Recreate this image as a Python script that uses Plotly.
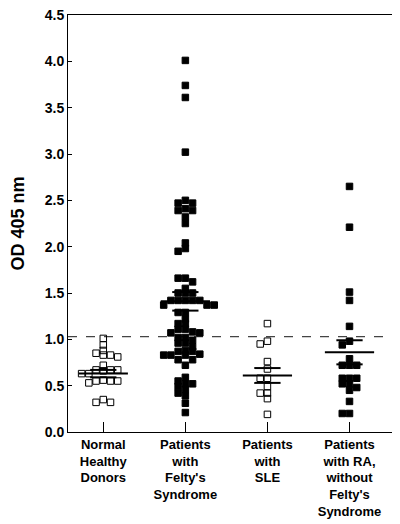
import plotly.graph_objects as go

categories = ["Normal<br>Healthy<br>Donors",
              "Patients<br>with<br>Felty's<br>Syndrome",
              "Patients<br>with<br>SLE",
              "Patients<br>with RA,<br>without<br>Felty's<br>Syndrome"]

normal = [1.01, 0.94, 0.88, 0.85, 0.83, 0.83, 0.81, 0.72, 0.67, 0.67, 0.67, 0.66,
          0.63, 0.63, 0.56, 0.55, 0.55, 0.55, 0.53, 0.35, 0.32, 0.32]
felty = [4.01, 3.74, 3.61, 3.02,
         2.50, 2.47, 2.47, 2.41, 2.39, 2.39, 2.32, 2.25,
         2.04, 1.98, 1.95,
         1.66, 1.66, 1.62, 1.55,
         1.50, 1.50, 1.50,
         1.42, 1.42, 1.42, 1.42, 1.42,
         1.37, 1.37, 1.37, 1.29, 1.29, 1.22, 1.17, 1.17,
         1.11, 1.11, 1.08, 1.07, 1.07,
         1.02, 1.02, 0.99, 0.96, 0.96,
         0.92, 0.88, 0.87, 0.87, 0.84, 0.83, 0.83, 0.83,
         0.78, 0.78, 0.72,
         0.59, 0.55, 0.52, 0.52, 0.49, 0.46, 0.42, 0.39, 0.31, 0.21]
sle = [1.17, 0.98, 0.95, 0.76, 0.68, 0.58, 0.58, 0.49, 0.42, 0.42, 0.36, 0.19]
ra = [2.65, 2.21, 1.51, 1.42, 1.14, 0.98, 0.94, 0.79, 0.72, 0.72, 0.72,
      0.58, 0.58, 0.58, 0.52, 0.52, 0.48, 0.45, 0.33, 0.20, 0.20]

group_means = [0.63, 1.41, 0.61, 0.86]
group_sems = [0.04, 0.10, 0.08, 0.13]
cutoff = 1.03

y_ticks = [0.0, 0.5, 1.0, 1.5, 2.0, 2.5, 3.0, 3.5, 4.0, 4.5]

groups = [normal, felty, sle, ra]
filled = [False, True, False, True]
positions = [1, 2, 3, 4]

COL_STEP = 0.088  # x units between swarm columns
MIN_DY = 0.05     # y units of allowed overlap within a column


def swarm(center, values):
    placed = []  # (col, value)
    xs = []
    for v in values:
        k = 0
        order = [0]
        for i in range(1, 12):
            order += [-i, i] if i % 2 else [i, -i]
        for c in order:
            if all(not (pc == c and abs(pv - v) < MIN_DY) for pc, pv in placed):
                k = c
                break
        placed.append((k, v))
        xs.append(center + k * COL_STEP)
    return xs


fig = go.Figure()
for pos, vals, fill in zip(positions, groups, filled):
    xs = swarm(pos, vals)
    fig.add_trace(go.Scatter(
        x=xs, y=vals, mode="markers",
        marker=dict(symbol="square" if fill else "square-open",
                    size=6.5, color="black",
                    line=dict(color="black", width=1)),
        showlegend=False, hoverinfo="y"))

shapes = []
for pos, m, s in zip(positions, group_means, group_sems):
    shapes.append(dict(type="line", xref="x", yref="y", x0=pos - 0.3, x1=pos + 0.3,
                       y0=m, y1=m, line=dict(color="black", width=2)))
    for yy in (m - s, m + s):
        shapes.append(dict(type="line", xref="x", yref="y", x0=pos - 0.16, x1=pos + 0.16,
                           y0=yy, y1=yy, line=dict(color="black", width=2)))
shapes.append(dict(type="line", xref="paper", yref="y", x0=0, x1=1, y0=cutoff, y1=cutoff,
                   line=dict(color="#444", width=1.2, dash="dash"), layer="below"))

font_family = "Liberation Sans, Arial, Helvetica, sans-serif"
fig.update_layout(
    width=400, height=524,
    margin=dict(l=60, r=15, t=7, b=100),
    paper_bgcolor="white", plot_bgcolor="white",
    font=dict(family=font_family, color="black", size=14),
    shapes=shapes,
    xaxis=dict(range=[0.57, 4.53], tickvals=positions, ticktext=[f"<b>{c}</b>" for c in categories],
               ticks="inside", ticklen=10, tickwidth=1, tickcolor="black",
               showline=True, linecolor="black", linewidth=1, mirror=True,
               showgrid=False, zeroline=False, tickfont=dict(size=13),
               ticklabeloverflow="allow", automargin=False),
    yaxis=dict(range=[0, 4.5], tickvals=y_ticks,
               ticktext=[f"<b>{t:.1f}</b>" for t in y_ticks],
               ticks="inside", ticklen=4, tickwidth=1, tickcolor="black",
               showline=True, linecolor="black", linewidth=1, mirror=True,
               showgrid=False, zeroline=False, tickfont=dict(size=14),
               ticklabeloverflow="allow", automargin=False,
               title=dict(text="<b>OD 405 nm</b>", font=dict(size=18), standoff=20)),
)

fig.write_html("out.html")
